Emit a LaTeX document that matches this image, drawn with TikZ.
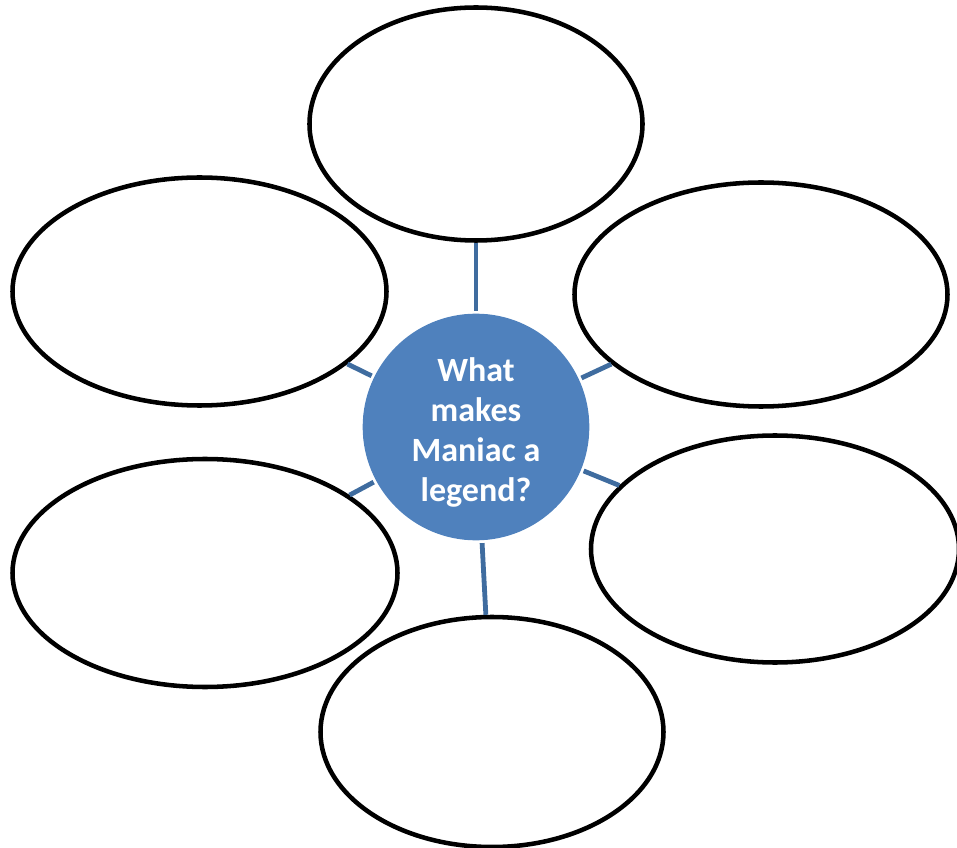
\documentclass[tikz,border=0pt]{standalone}
\usepackage{fontspec}
\setmainfont{Carlito}
\usetikzlibrary{shapes.geometric}
\definecolor{hubblue}{HTML}{4F81BD}
\definecolor{linkblue}{HTML}{3F6C9F}
\tikzset{
  bubble/.style={ellipse, draw=black, line width=3.4pt, fill=white, inner sep=0pt},
  hub/.style={circle, fill=hubblue, inner sep=0pt, minimum size=170pt, text=white,
    font=\bfseries\fontsize{25.5}{30}\selectfont, align=center},
  link/.style={draw=linkblue, line width=3.6pt, shorten <=2pt}
}
\begin{document}
\begin{tikzpicture}[x=0.75pt,y=-0.75pt]
\useasboundingbox (0,0) rectangle (957,848);
\node[hub] (c) at (476,427) {};
\node[text=white, font=\bfseries\fontsize{25.5}{30}\selectfont, align=center] (ct) at (476,432) {What\\makes\\Maniac a\\legend?};
\node[bubble, minimum width=333*0.75pt, minimum height=233*0.75pt] (t) at (476,124) {};
\node[bubble, minimum width=374*0.75pt, minimum height=228*0.75pt] (ul) at (199.5,291.5) {};
\node[bubble, minimum width=373*0.75pt, minimum height=224*0.75pt] (ur) at (761,294.5) {};
\node[bubble, minimum width=385*0.75pt, minimum height=228*0.75pt] (ll) at (205,573) {};
\node[bubble, minimum width=368*0.75pt, minimum height=227*0.75pt] (lr) at (775,549) {};
\node[bubble, minimum width=343*0.75pt, minimum height=230*0.75pt] (b) at (492,732) {};
\draw[link] (c) -- (t);
\draw[link] (c) -- (ul);
\draw[link] (c) -- (ur);
\draw[link] (c) -- (ll);
\draw[link] (c) -- (lr);
\draw[link] (c) -- (b);
\end{tikzpicture}
\end{document}
